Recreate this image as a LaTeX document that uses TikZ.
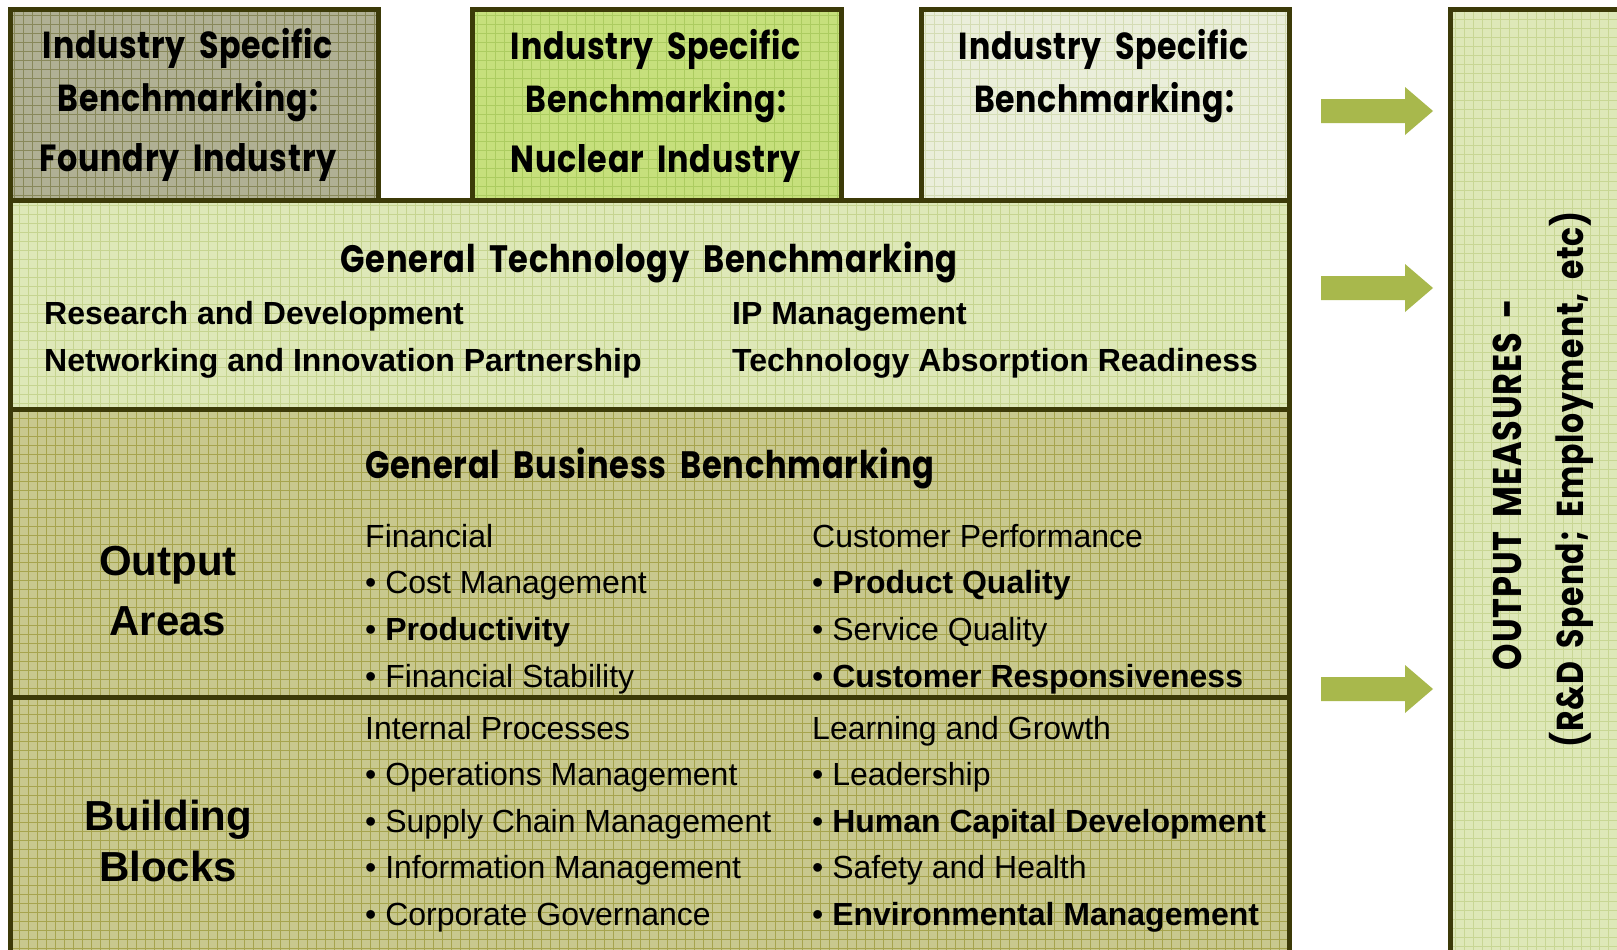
\documentclass[tikz,border=0pt]{standalone}
\usepackage{fontspec}
\usepackage{graphicx}
\setmainfont{Liberation Sans}
\newfontfamily\fut[FakeStretch=0.84, WordSpace=1.8, LetterSpace=2]{Poppins}
\definecolor{edge}{RGB}{60,58,8}
\definecolor{cA}{RGB}{176,176,148}\definecolor{gA}{RGB}{136,136,90}
\definecolor{cB}{RGB}{198,224,124}\definecolor{gB}{RGB}{172,204,96}
\definecolor{cC}{RGB}{234,238,218}\definecolor{gC}{RGB}{212,220,180}
\definecolor{cT}{RGB}{222,232,184}\definecolor{gT}{RGB}{198,212,144}
\definecolor{cU}{RGB}{200,200,142}\definecolor{gU}{RGB}{166,164,78}
\definecolor{cO}{RGB}{222,232,184}\definecolor{gO}{RGB}{200,214,148}
\definecolor{arrowc}{RGB}{168,184,76}
\newcommand{\fw}[2]{\resizebox{#1pt}{!}{\fut\bfseries #2}}
\newcommand{\blockarrow}[1]{\fill[arrowc,shift={(0,#1)}] (1321,-12) -- (1405,-12) -- (1405,-24) -- (1433,0) -- (1405,24) -- (1405,12) -- (1321,12) -- cycle;}
\tikzset{
  box/.style={draw=edge, line width=5pt, inner sep=0pt, outer sep=0pt},
  gridded/.style={path picture={\draw[#1, line width=0.8pt, step=9pt] (path picture bounding box.south west) grid (path picture bounding box.north east);}},
  hd/.style={inner sep=0pt, anchor=base},
  body/.style={inner sep=0pt, anchor=base west, font=\fontsize{32}{36}\selectfont},
  bodyb/.style={inner sep=0pt, anchor=base west, font=\fontsize{32}{36}\selectfont\bfseries},
  big/.style={inner sep=0pt, anchor=base, font=\fontsize{42}{46}\selectfont\bfseries}
}
\begin{document}
\begin{tikzpicture}[x=1pt,y=-1pt]
\useasboundingbox (0,0) rectangle (1617,950);
\clip (0,0) rectangle (1617,950);
\fill[white] (0,0) rectangle (1617,950);
% boxes
\node[box, fill=cA, gridded=gA, minimum width=368pt, minimum height=190pt] (b1) at (194,105) {};
\node[box, fill=cB, gridded=gB, minimum width=369pt, minimum height=190pt] (b2) at (657,105) {};
\node[box, fill=cC, gridded=gC, minimum width=368pt, minimum height=190pt] (b3) at (1105,105) {};
\node[box, fill=cT, gridded=gT, minimum width=1279pt, minimum height=209.5pt] (tech) at (649.5,304.75) {};
\node[box, fill=cU, gridded=gU, minimum width=1279pt, minimum height=288pt] (bus) at (649.5,553.5) {};
\node[box, fill=cU, gridded=gU, minimum width=1279pt, minimum height=267pt] (bld) at (649.5,831) {};
\node[box, fill=cO, gridded=gO, minimum width=190pt, minimum height=955pt] (out) at (1545,487.5) {};
% arrows
\blockarrow{111}
\blockarrow{288}
\blockarrow{689}
% top boxes text
\node[hd] (t1a) at (188,59) {\fw{290}{Industry Specific}};
\node[hd] (t1b) at (188,111) {\fw{260}{Benchmarking:}};
\node[hd] (t1c) at (188,171) {\fw{297}{Foundry Industry}};
\node[hd] (t2a) at (656,60) {\fw{290}{Industry Specific}};
\node[hd] (t2b) at (656,112) {\fw{260}{Benchmarking:}};
\node[hd] (t2c) at (656,172) {\fw{290}{Nuclear Industry}};
\node[hd] (t3a) at (1104,60) {\fw{290}{Industry Specific}};
\node[hd] (t3b) at (1104,112) {\fw{260}{Benchmarking:}};
% technology
\node[hd] (th) at (649,272) {\fw{617}{General Technology Benchmarking}};
\node[bodyb] (tr1) at (44,324) {Research and Development};
\node[bodyb] (tr2) at (44,371) {Networking and Innovation Partnership};
\node[bodyb] (tr3) at (732,324) {IP Management};
\node[bodyb] (tr4) at (732,371) {Technology Absorption Readiness};
% business
\node[inner sep=0pt, anchor=base west] (bh) at (365,478) {\fw{569}{General Business Benchmarking}};
\node[big] (oa1) at (168,575) {Output};
\node[big] (oa2) at (168,635) {Areas};
\node[body] (f0) at (365,547) {Financial};
\node[body] (f1) at (365,593) {• Cost Management};
\node[body] (f2) at (365,640) {• \textbf{Productivity}};
\node[body] (f3) at (365,687) {• Financial Stability};
\node[body] (c0) at (812,547) {Customer Performance};
\node[body] (c1) at (812,593) {• \textbf{Product Quality}};
\node[body] (c2) at (812,640) {• Service Quality};
\node[body] (c3) at (812,687) {• \textbf{Customer Responsiveness}};
% building blocks
\node[big] (bb1) at (168,830) {Building};
\node[big] (bb2) at (168,881) {Blocks};
\node[body] (i0) at (365,739) {Internal Processes};
\node[body] (i1) at (365,785) {• Operations Management};
\node[body] (i2) at (365,832) {• Supply Chain Management};
\node[body] (i3) at (365,878) {• Information Management};
\node[body] (i4) at (365,925) {• Corporate Governance};
\node[body] (l0) at (812,739) {Learning and Growth};
\node[body] (l1) at (812,785) {• Leadership};
\node[body] (l2) at (812,832) {• \textbf{Human Capital Development}};
\node[body] (l3) at (812,878) {• Safety and Health};
\node[body] (l4) at (812,925) {• \textbf{Environmental Management}};
% output measures
\node[hd, rotate=90] (om1) at (1521,484.5) {\fw{371}{OUTPUT MEASURES -}};
\node[hd, rotate=90] (om2) at (1583,479.5) {\fw{536}{(R\&D Spend; Employment, etc)}};
\end{tikzpicture}
\end{document}
